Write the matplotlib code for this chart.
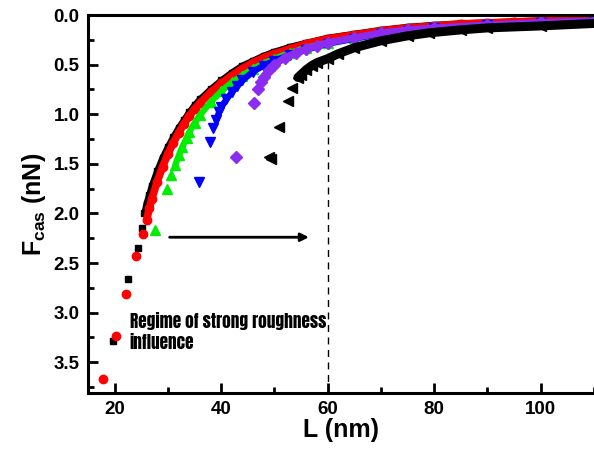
import matplotlib
matplotlib.use('Agg')
import matplotlib.pyplot as plt
from matplotlib.ticker import MultipleLocator

plt.rcParams['font.family'] = ['Liberation Sans', 'DejaVu Sans']
plt.rcParams['mathtext.fontset'] = 'custom'
plt.rcParams['mathtext.rm'] = 'Liberation Sans'
plt.rcParams['mathtext.bf'] = 'Liberation Sans:bold'

# black squares
L_sq = [19.6, 22.6, 24.3, 25.2, 25.6, 26.0, 26.5, 27, 28, 29, 30, 31, 32, 33, 34, 35, 36, 38, 40,
        42, 44, 46, 48, 50, 53, 56, 60, 65, 70, 75, 80, 85, 90, 95, 100, 105, 110]
F_sq = [3.29, 2.66, 2.35, 2.15, 2.00, 1.90, 1.81, 1.72, 1.57, 1.44, 1.33, 1.23, 1.14, 1.06, 0.98, 0.91,
        0.85, 0.75, 0.66, 0.58, 0.51, 0.46, 0.41, 0.37, 0.32, 0.28, 0.23, 0.19, 0.15, 0.12, 0.10, 0.085,
        0.075, 0.065, 0.055, 0.048, 0.04]
# red circles
L_ci = [17.8, 20.2, 22.2, 24.1, 25.4, 26.0, 26.5, 27, 28, 29, 30, 31, 32, 33, 34, 35, 36, 38, 40,
        42, 44, 46, 48, 50, 53, 56, 60, 65, 70, 75, 80, 85, 90, 95, 100, 105, 110]
F_ci = [3.67, 3.24, 2.81, 2.43, 2.21, 2.07, 1.95, 1.85, 1.68, 1.53, 1.40, 1.29, 1.19, 1.10, 1.02, 0.95,
        0.89, 0.78, 0.69, 0.61, 0.54, 0.48, 0.43, 0.39, 0.34, 0.29, 0.24, 0.20, 0.16, 0.13, 0.11, 0.09,
        0.08, 0.07, 0.06, 0.05, 0.045]
# green up triangles
L_up = [27.6, 29.9, 30.6, 31.4, 32.1, 32.7, 33.5, 34, 35, 36, 38, 40, 42, 44, 46, 48, 50, 53, 56,
        60, 65, 70, 75, 80, 90, 100, 110]
F_up = [2.17, 1.75, 1.61, 1.51, 1.41, 1.33, 1.24, 1.18, 1.09, 1.01, 0.88, 0.77, 0.68, 0.61, 0.54,
        0.49, 0.44, 0.38, 0.33, 0.28, 0.23, 0.185, 0.155, 0.13, 0.10, 0.08, 0.06]
# blue down triangles
L_dn = [35.9, 37.9, 38.5, 39.1, 39.6, 40, 41, 42, 43, 44, 46, 48, 50, 53, 56, 60, 65, 70, 75, 80,
        90, 100, 110]
F_dn = [1.68, 1.28, 1.14, 1.06, 0.98, 0.93, 0.85, 0.78, 0.72, 0.66, 0.57, 0.51, 0.46, 0.40, 0.35,
        0.29, 0.24, 0.19, 0.16, 0.13, 0.10, 0.08, 0.06]
# purple diamonds
L_di = [42.8, 46.2, 46.9, 47.5, 48, 49, 50, 52, 54, 56, 58, 60, 65, 70, 75, 80, 90, 100, 110]
F_di = [1.43, 0.89, 0.75, 0.68, 0.62, 0.55, 0.50, 0.43, 0.38, 0.34, 0.31, 0.28, 0.23, 0.18, 0.15,
        0.13, 0.10, 0.075, 0.06]
# black left triangles
L_lt = [49.0, 49.3, 50.8, 52.5, 53.3, 54.4, 55, 56, 57, 58, 60, 62, 65, 70, 75, 79, 85, 90, 100, 110]
F_lt = [1.43, 1.45, 1.13, 0.87, 0.74, 0.63, 0.60, 0.55, 0.51, 0.48, 0.44, 0.39, 0.33, 0.26, 0.21,
        0.18, 0.15, 0.13, 0.11, 0.085]

series = [
    (L_sq, F_sq, 'black', 's', 4.5, 4, 4.5),
    (L_ci, F_ci, 'red', 'o', 6, 5, 5.5),
    (L_up, F_up, '#00ee00', '^', 6.5, 3, 4.5),
    (L_dn, F_dn, 'blue', 'v', 6.5, 3, 4.5),
    (L_di, F_di, '#8b2cf0', 'D', 6.2, 3, 5.0),
    (L_lt, F_lt, 'black', '<', 7.5, 5, 6.5),
]

fig = plt.figure(figsize=(5.94, 4.58), dpi=100)
ax = fig.add_axes([88 / 594, 1 - 393 / 458, 1 - 88 / 594, (393 - 15) / 458])

for L, F, c, m, ms, n_iso, lw in series:
    ax.plot(L[n_iso:], F[n_iso:], color=c, lw=lw, solid_capstyle='round')
    ax.plot(L, F, ls='none', marker=m, ms=ms, color=c, mec=c)

ax.axvline(60, ymin=(3.81 - 0.47) / 3.81, ymax=0, color='black', lw=1, ls=(0, (5, 4)))
ax.annotate('', xy=(57.0, 2.24), xytext=(29.8, 2.24),
            arrowprops=dict(arrowstyle='-|>', color='black', lw=2, mutation_scale=12))
ax.text(22.8, 3.19, 'Regime of strong roughness\ninfluence', fontsize=12.4,
        family=['Anton', 'Roboto Condensed', 'DejaVu Sans'], linespacing=1.25, va='center', ha='left')

ax.set_xlim(15, 110)
ax.set_ylim(3.81, 0)
ax.xaxis.set_major_locator(MultipleLocator(20))
ax.xaxis.set_minor_locator(MultipleLocator(10))
ax.yaxis.set_major_locator(MultipleLocator(0.5))
ax.yaxis.set_minor_locator(MultipleLocator(0.25))
ax.tick_params(which='both', direction='in', width=2, labelsize=13.5)
ax.tick_params(which='major', length=7, pad=6)
ax.tick_params(which='minor', length=4)
for lab in ax.get_xticklabels() + ax.get_yticklabels():
    lab.set_fontweight('bold')
for s in ['left', 'bottom', 'top']:
    ax.spines[s].set_linewidth(2.2)
ax.spines['right'].set_visible(False)

ax.set_xlabel('L (nm)', fontsize=18, fontweight='bold', labelpad=0)
ax.set_ylabel(r'F$_{\mathregular{cas}}$ (nN)', fontsize=18, fontweight='bold', labelpad=4)

fig.savefig('out.png', dpi=100)
